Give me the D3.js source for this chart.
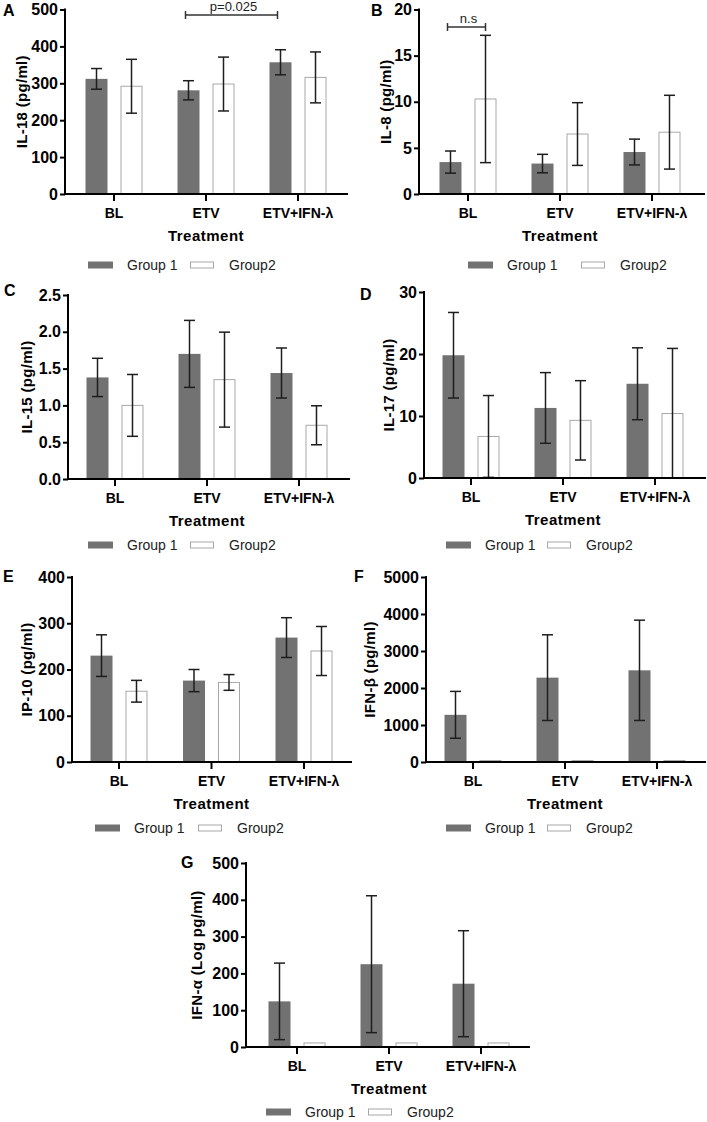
<!DOCTYPE html>
<html>
<head>
<meta charset="utf-8">
<script src="https://cdn.jsdelivr.net/npm/d3@7"></script>
<style>
  body { margin: 0; background: #fff; }
  svg { display: block; font-family: "Liberation Sans", Arial, sans-serif; }
  .ytick text { font-size: 16px; font-weight: bold; }
  .xtick text { font-size: 14px; font-weight: bold; }
</style>
</head>
<body>
<script>
// categories shared by every panel
var categories = ["BL", "ETV", "ETV+IFN-λ"];
var groups = ["Group 1", "Group2"];

// A: IL-18
var il18G1 = [312, 281, 357], il18G1Sd = [28, 26, 34];
var il18G2 = [292, 298, 316], il18G2Sd = [73, 73, 69];
// B: IL-8
var il8G1 = [3.46, 3.3, 4.55], il8G1Sd = [1.2, 1.0, 1.4];
var il8G2 = [10.3, 6.5, 6.7], il8G2Sd = [6.9, 3.4, 4.0];
// C: IL-15
var il15G1 = [1.38, 1.7, 1.44], il15G1Sd = [0.26, 0.455, 0.34];
var il15G2 = [1.0, 1.35, 0.73], il15G2Sd = [0.42, 0.645, 0.265];
// D: IL-17
var il17G1 = [19.8, 11.3, 15.2], il17G1Sd = [6.9, 5.7, 5.8];
var il17G2 = [6.7, 9.3, 10.4], il17G2Sd = [6.6, 6.4, 10.5];
// E: IP-10
var ip10G1 = [230, 176, 269], ip10G1Sd = [45, 24, 43];
var ip10G2 = [153, 172, 240], ip10G2Sd = [23.5, 17, 53];
// F: IFN-beta
var ifnbG1 = [1275, 2280, 2478], ifnbG1Sd = [633, 1158, 1355];
var ifnbG2 = [40, 40, 40], ifnbG2Sd = [0, 0, 0];
// G: IFN-alpha
var ifnaG1 = [124, 225, 172], ifnaG1Sd = [104, 186, 144];
var ifnaG2 = [11, 11, 11], ifnaG2Sd = [0, 0, 0];

// y tick labels
var ticks500 = [0, 100, 200, 300, 400, 500];
var ticks20 = [0, 5, 10, 15, 20];
var ticks25 = [0, 0.5, 1.0, 1.5, 2.0, 2.5];
var ticks30 = [0, 10, 20, 30];
var ticks400 = [0, 100, 200, 300, 400];
var ticks5000 = [0, 1000, 2000, 3000, 4000, 5000];

var dark = "#727272", pale = "#a8a8a8", ink = "#1e1e1e";

var svg = d3.select("body").append("svg")
    .attr("width", 707)
    .attr("height", 1122);

var panels = [
  {letter: "A", label: "IL-18 (pg/ml)", g1: il18G1, s1: il18G1Sd, g2: il18G2, s2: il18G2Sd,
   ticks: ticks500, fmt: d3.format("d"), ax: 65, right: 348, y0: 194, yTop: 9.5, c1: 114, step: 92,
   labelX: 22, lx: 88, lgap: 102, ly: 265, letterX: 3, letterY: 16,
   bracket: {from: 1, to: 2, value: 485, text: "p=0.025"}},
  {letter: "B", label: "IL-8 (pg/ml)", g1: il8G1, s1: il8G1Sd, g2: il8G2, s2: il8G2Sd,
   ticks: ticks20, fmt: d3.format("d"), ax: 419, right: 705, y0: 194, yTop: 9.5, c1: 468, step: 92,
   labelX: 386, lx: 468, lgap: 113, ly: 265, letterX: 371, letterY: 16,
   bracket: {from: 0, to: 0, value: 18.1, text: "n.s"}},
  {letter: "C", label: "IL-15 (pg/ml)", g1: il15G1, s1: il15G1Sd, g2: il15G2, s2: il15G2Sd,
   ticks: ticks25, fmt: d3.format(".1f"), ax: 68, right: 350, y0: 479, yTop: 295, c1: 115, step: 92,
   labelX: 27, lx: 88, lgap: 102, ly: 545, letterX: 4, letterY: 296},
  {letter: "D", label: "IL-17 (pg/ml)", g1: il17G1, s1: il17G1Sd, g2: il17G2, s2: il17G2Sd,
   ticks: ticks30, fmt: d3.format("d"), ax: 424, right: 706, y0: 478, yTop: 292, c1: 471, step: 92,
   labelX: 389, lx: 446, lgap: 101, ly: 545, letterX: 360, letterY: 300},
  {letter: "E", label: "IP-10 (pg/ml)", g1: ip10G1, s1: ip10G1Sd, g2: ip10G2, s2: ip10G2Sd,
   ticks: ticks400, fmt: d3.format("d"), ax: 72, right: 352, y0: 762, yTop: 577, c1: 119, step: 92.5,
   labelX: 27, lx: 95, lgap: 103, ly: 828, letterX: 3, letterY: 582},
  {letter: "F", label: "IFN-β (pg/ml)", g1: ifnbG1, s1: ifnbG1Sd, g2: ifnbG2, s2: ifnbG2Sd,
   ticks: ticks5000, fmt: d3.format("d"), ax: 426, right: 706, y0: 762, yTop: 577, c1: 473, step: 92,
   labelX: 370, lx: 446, lgap: 101, ly: 828, letterX: 354, letterY: 582},
  {letter: "G", label: "IFN-α (Log pg/ml)", g1: ifnaG1, s1: ifnaG1Sd, g2: ifnaG2, s2: ifnaG2Sd,
   ticks: ticks500, fmt: d3.format("d"), ax: 246, right: 530, y0: 1047, yTop: 863, c1: 297, step: 92,
   labelX: 197, lx: 266, lgap: 102, ly: 1112, letterX: 181, letterY: 868}
];

panels.forEach(drawPanel);

function drawPanel(p) {
  var g = svg.append("g");

  var y = d3.scaleLinear()
      .domain([0, d3.max(p.ticks)])
      .range([p.y0, p.yTop]);

  var x = d3.scaleBand()
      .domain(categories)
      .range([p.c1 - p.step / 2, p.c1 + p.step * 2.5]);

  // two bars per category
  var sub = d3.scaleBand()
      .domain([0, 1])
      .range([-28.5, 28.5])
      .paddingInner(0.3714);

  var rows = [];
  categories.forEach(function(c, i) {
    rows.push({cat: c, grp: 0, v: p.g1[i], sd: p.s1[i]});
    rows.push({cat: c, grp: 1, v: p.g2[i], sd: p.s2[i]});
  });

  function cx(d) {
    return x(d.cat) + x.bandwidth() / 2 + sub(d.grp) + sub.bandwidth() / 2;
  }

  // bars
  g.selectAll("rect.bar")
    .data(rows)
    .enter().append("rect")
      .attr("class", "bar")
      .attr("x", function(d) { return cx(d) - sub.bandwidth() / 2 + (d.grp ? 0.5 : 0); })
      .attr("width", function(d) { return sub.bandwidth() - (d.grp ? 1 : 0); })
      .attr("y", function(d) { return y(d.v); })
      .attr("height", function(d) { return y(0) - y(d.v); })
      .attr("fill", function(d) { return d.grp ? "#fff" : dark; })
      .attr("stroke", function(d) { return d.grp ? pale : "none"; })
      .attr("stroke-width", 1);

  // error bars (mean +/- SD, clipped at zero)
  var eb = g.selectAll("g.err")
    .data(rows.filter(function(d) { return d.sd > 0; }))
    .enter().append("g")
      .attr("class", "err")
      .attr("stroke", ink)
      .attr("stroke-width", 1.5);

  eb.append("line")
      .attr("x1", cx).attr("x2", cx)
      .attr("y1", function(d) { return y(d.v + d.sd); })
      .attr("y2", function(d) { return y(Math.max(0, d.v - d.sd)); });
  eb.append("line")
      .attr("x1", function(d) { return cx(d) - 5.5; })
      .attr("x2", function(d) { return cx(d) + 5.5; })
      .attr("y1", function(d) { return y(d.v + d.sd); })
      .attr("y2", function(d) { return y(d.v + d.sd); });
  eb.filter(function(d) { return d.v - d.sd > 0; })
    .append("line")
      .attr("x1", function(d) { return cx(d) - 5.5; })
      .attr("x2", function(d) { return cx(d) + 5.5; })
      .attr("y1", function(d) { return y(d.v - d.sd); })
      .attr("y2", function(d) { return y(d.v - d.sd); });

  // y axis
  var ya = g.append("g")
      .attr("class", "ytick")
      .attr("transform", "translate(" + p.ax + ",0)")
      .call(d3.axisLeft(y).tickValues(p.ticks).tickFormat(p.fmt).tickSize(5).tickPadding(2));
  ya.select(".domain").remove();
  ya.selectAll("line").attr("stroke", "#000").attr("stroke-width", 2);
  ya.selectAll("text").attr("fill", "#000");
  g.append("line")
      .attr("x1", p.ax).attr("x2", p.ax)
      .attr("y1", y(d3.max(p.ticks)) - 1).attr("y2", p.y0 + 1)
      .attr("stroke", "#000").attr("stroke-width", 2);

  // x axis
  var xa = g.append("g")
      .attr("class", "xtick")
      .attr("transform", "translate(0," + p.y0 + ")")
      .call(d3.axisBottom(x).tickSize(7).tickPadding(7));
  xa.select(".domain").remove();
  xa.selectAll("line").attr("stroke", "#000").attr("stroke-width", 2);
  xa.selectAll("text").attr("fill", "#000");
  g.append("line")
      .attr("x1", p.ax - 1).attr("x2", p.right)
      .attr("y1", p.y0).attr("y2", p.y0)
      .attr("stroke", "#000").attr("stroke-width", 2);

  // axis titles
  g.append("text")
      .attr("x", x(categories[1]) + x.bandwidth() / 2)
      .attr("y", p.y0 + 47)
      .attr("text-anchor", "middle")
      .style("font-size", "15px").style("font-weight", "bold")
      .style("letter-spacing", "0.5px")
      .text("Treatment");

  g.append("text")
      .attr("transform", "translate(" + p.labelX + "," + (p.y0 + p.yTop) / 2 + ") rotate(-90)")
      .attr("text-anchor", "middle")
      .attr("dy", "0.35em")
      .style("font-size", "15px").style("font-weight", "bold")
      .style("letter-spacing", "0.3px")
      .text(p.label);

  // panel letter
  g.append("text")
      .attr("x", p.letterX).attr("y", p.letterY)
      .style("font-size", "16px").style("font-weight", "bold")
      .text(p.letter);

  // legend
  var lg = g.append("g").attr("transform", "translate(" + p.lx + "," + p.ly + ")");
  lg.append("rect").attr("x", 0).attr("y", -3.5).attr("width", 25).attr("height", 7).attr("fill", dark);
  lg.append("text").attr("x", 39).attr("y", 5).style("font-size", "14px").attr("fill", "#222").text(groups[0]);
  lg.append("rect").attr("x", p.lgap + 0.5).attr("y", -3).attr("width", 23).attr("height", 6)
      .attr("fill", "#fff").attr("stroke", pale);
  lg.append("text").attr("x", p.lgap + 39).attr("y", 5).style("font-size", "14px").attr("fill", "#222").text(groups[1]);

  // significance bracket
  if (p.bracket) {
    var b = p.bracket;
    var bx1 = cx({cat: categories[b.from], grp: 0}) - 3;
    var bx2 = b.from === b.to ? cx({cat: categories[b.to], grp: 1}) : cx({cat: categories[b.to], grp: 0}) - 3;
    var by = y(b.value);
    var br = g.append("g").attr("stroke", "#333").attr("stroke-width", 1.5);
    br.append("line").attr("x1", bx1).attr("x2", bx2).attr("y1", by).attr("y2", by);
    br.append("line").attr("x1", bx1).attr("x2", bx1).attr("y1", by - 4).attr("y2", by + 4);
    br.append("line").attr("x1", bx2).attr("x2", bx2).attr("y1", by - 4).attr("y2", by + 4);
    g.append("text")
        .attr("x", (bx1 + bx2) / 2 + 2)
        .attr("y", by - 4)
        .attr("text-anchor", "middle")
        .style("font-size", "13px")
        .attr("fill", "#222")
        .text(b.text);
  }
}
</script>
</body>
</html>
